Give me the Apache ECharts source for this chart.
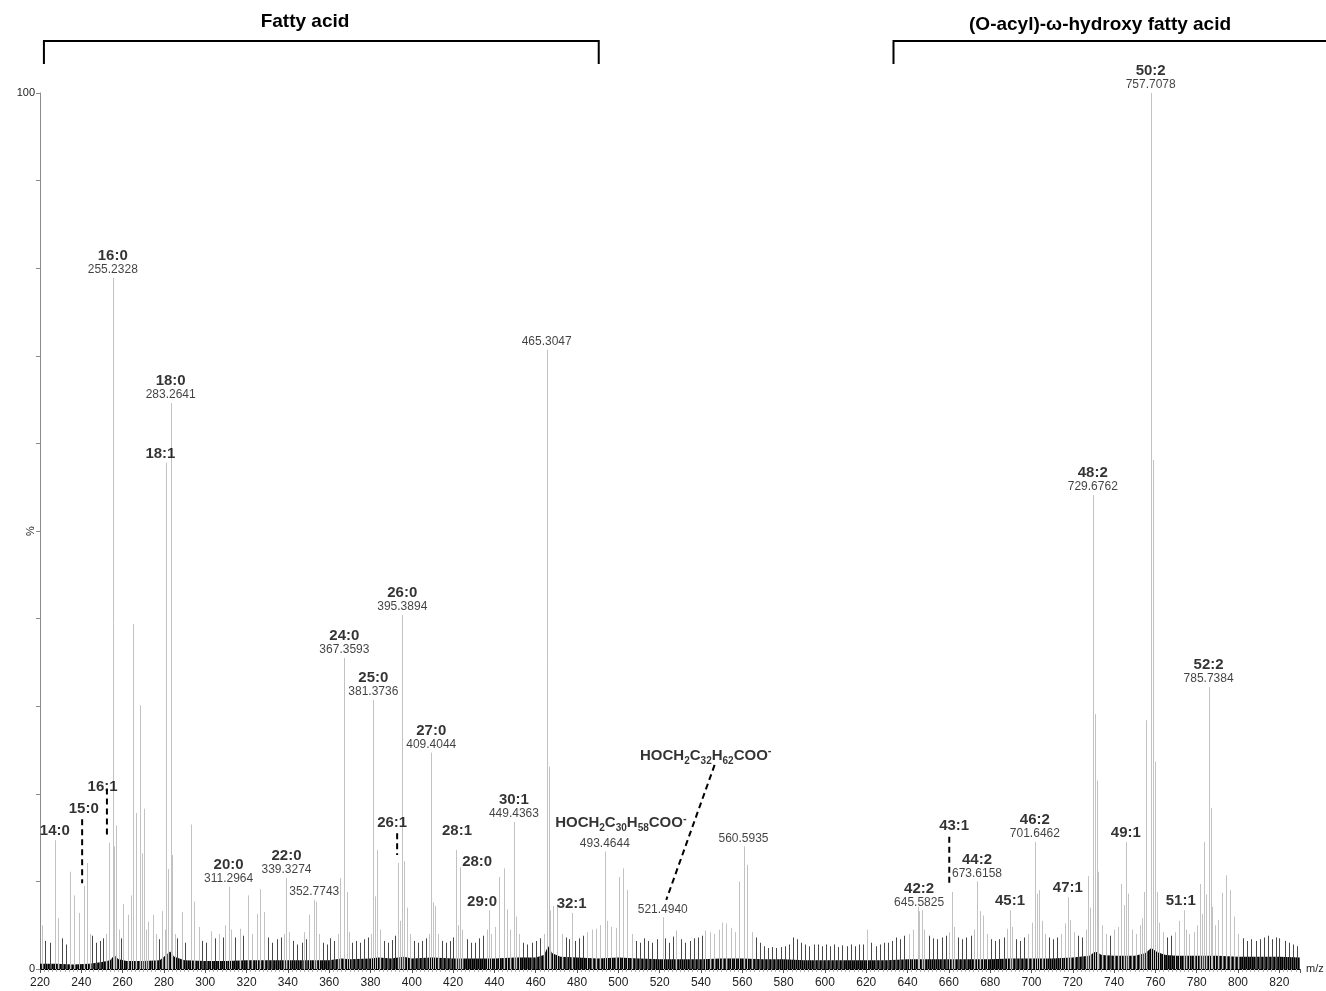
<!DOCTYPE html>
<html>
<head>
<meta charset="utf-8">
<title>Negative-ion mass spectrum: fatty acids and (O-acyl)-ω-hydroxy fatty acids</title>
<script src="https://cdn.jsdelivr.net/npm/echarts@6/dist/echarts.min.js"></script>
<style>
  html, body { margin: 0; padding: 0; background: #fff; }
  #chart { width: 1326px; height: 991px; }
</style>
</head>
<body>
<div id="chart"></div>
<script>
// ---------------- data ----------------
// axis ranges (m/z and relative intensity, %)
const mzMin = 220, mzMax = 830, mzStep = 20;
const relMin = 0, relMax = 100, relStep = 10;
const relLabelsShown = [0, 100];

// assigned peaks: name, m/z, relative intensity, whether the exact m/z is printed
const tagName = ['14:0', '15:0', '16:1', '16:0', '18:1', '18:0', '20:0', '22:0', '', '24:0',
  '25:0', '26:1', '26:0', '27:0', '28:1', '28:0', '29:0', '30:1', '', '32:1',
  'HOCH2C30H58COO-', 'HOCH2C32H62COO-', '', '42:2', '43:1', '44:2', '45:1', '46:2', '47:1', '48:2',
  '49:1', '50:2', '51:1', '52:2'];
const tagMz = [227.2, 241.2, 253.2, 255.2328, 281.2, 283.2641, 311.2964, 339.3274, 352.7743, 367.3593,
  381.3736, 393.4, 395.3894, 409.4044, 421.4, 423.4, 437.4, 449.4363, 465.3047, 477.4,
  493.4644, 521.4940, 560.5935, 645.5825, 661.6, 673.6158, 689.6, 701.6462, 717.6, 729.6762,
  745.7, 757.7078, 773.7, 785.7384];
const tagIntensity = [14.7, 9.5, 14.4, 78.9, 57.8, 64.6, 9.4, 10.4, 7.9, 35.5,
  30.7, 12.1, 40.4, 24.7, 13.6, 11.6, 6.7, 16.8, 70.7, 6.4,
  13.4, 5.9, 14.0, 6.6, 8.8, 10.0, 6.7, 14.5, 8.2, 54.1,
  14.5, 100, 6.7, 32.2];
const tagShowMz = [false, false, false, true, false, true, true, true, true, true,
  true, false, true, true, false, false, false, true, true, false,
  true, true, true, true, false, true, false, true, false, true,
  false, true, false, true];

// remaining peaks: [m/z, relative intensity %]
const otherPeaks = [
  [220.8, 5.0], [222.5, 3.2], [224.6, 3.0], [228.5, 5.8], [230.5, 3.5], [232.6, 2.8], [234.5, 11.1],
  [236.5, 8.4], [238.9, 6.4], [242.7, 12.1], [244.0, 4.0], [245.2, 3.8], [247.0, 3.0], [249.0, 3.2],
  [250.6, 3.5], [252.0, 4.0], [256.0, 14.0], [257.0, 16.4], [258.3, 4.5], [259.4, 3.5], [260.3, 7.4],
  [262.6, 6.2], [264.0, 8.4], [265.0, 39.4], [266.6, 17.8], [268.5, 30.1], [269.3, 13.2], [270.5, 18.3],
  [271.4, 4.5], [272.4, 5.4], [274.5, 6.2], [276.2, 4.0], [277.4, 3.4], [279.2, 6.6], [280.3, 4.5],
  [282.1, 11.4], [284.0, 13.0], [285.2, 4.0], [286.5, 3.5], [288.7, 6.5], [290.3, 3.0], [293.1, 16.5],
  [294.5, 7.7], [296.9, 4.8], [298.4, 3.2],
  [300.5, 3.0], [302.6, 4.3], [304.5, 3.5], [306.8, 4.0], [308.5, 3.6], [309.5, 5.0], [312.3, 4.5],
  [314.5, 3.6], [316.6, 4.6], [318.5, 3.8], [320.8, 8.4], [322.4, 4.0], [324.9, 6.3], [326.5, 9.1],
  [328.5, 6.5], [330.5, 3.6], [332.5, 3.0], [334.6, 3.4], [336.6, 3.6], [338.2, 4.0], [340.6, 4.2],
  [342.5, 3.2], [344.5, 2.8], [346.6, 3.0], [347.6, 4.2], [348.6, 3.4], [350.3, 6.2], [353.6, 7.7],
  [355.0, 4.0], [357.0, 3.0], [359.0, 2.8],
  [360.5, 3.5], [362.5, 3.2], [364.2, 4.0], [365.2, 10.4], [368.4, 8.8], [369.5, 4.2], [371.0, 3.0],
  [373.0, 3.2], [375.0, 3.0], [377.0, 3.4], [379.0, 3.6], [380.3, 4.0], [382.2, 8.3], [383.2, 13.6],
  [384.5, 4.5], [386.5, 3.2], [388.5, 3.0], [390.5, 3.3], [392.0, 3.8], [394.2, 5.5], [396.0, 12.3],
  [397.7, 7.0], [399.0, 4.0], [401.0, 3.2], [403.0, 3.0], [405.0, 3.2], [407.0, 3.5], [408.3, 4.0],
  [410.2, 7.6], [411.1, 7.2], [412.5, 4.0], [414.5, 3.2], [416.5, 3.0], [418.5, 3.2], [420.0, 3.6],
  [422.3, 5.0], [424.5, 4.5], [426.5, 3.4], [428.5, 3.0], [430.5, 3.0], [432.5, 3.5], [434.5, 3.8],
  [436.2, 4.5], [438.5, 4.0], [440.5, 4.8], [442.4, 10.5], [444.4, 11.5], [446.3, 6.8], [447.5, 4.5],
  [450.5, 6.0], [452.0, 4.0], [454.0, 3.0], [456.0, 2.8], [458.0, 3.0], [460.0, 3.2], [462.0, 3.5],
  [464.0, 4.0], [466.2, 23.1], [467.0, 6.7], [468.5, 7.2], [470.4, 7.4], [472.5, 4.0], [474.5, 3.6],
  [476.0, 3.4], [479.0, 3.2],
  [481.0, 3.5], [483.0, 3.8], [485.0, 4.2], [487.0, 4.5], [489.0, 4.6], [491.0, 5.0], [494.5, 5.5],
  [496.5, 4.8], [498.7, 4.7], [500.3, 10.5], [502.3, 11.5], [504.4, 9.0], [506.5, 4.0], [508.5, 3.2],
  [510.5, 3.0], [512.5, 3.5], [514.5, 3.2], [516.5, 3.0], [518.5, 3.4], [522.6, 3.5], [524.5, 3.0],
  [526.5, 3.7], [528.1, 4.4], [530.5, 3.4], [532.5, 3.0], [534.5, 3.2], [536.5, 3.5], [538.5, 3.6],
  [540.5, 3.8], [542.1, 4.4], [544.5, 4.2], [546.5, 4.0], [548.5, 4.5], [550.3, 5.3], [552.2, 5.2],
  [554.3, 4.7], [556.5, 4.2], [558.4, 10.0], [562.4, 11.9], [564.5, 4.2], [566.7, 3.6], [568.5, 3.0],
  [570.5, 2.6], [572.5, 2.4], [574.5, 2.5], [576.5, 2.4], [578.5, 2.5],
  [580.5, 2.6], [582.5, 2.8], [584.5, 3.6], [586.5, 3.4], [588.5, 3.0], [590.5, 2.8], [592.5, 2.6],
  [594.5, 2.8], [596.5, 2.8], [598.5, 2.6], [600.5, 2.8], [602.5, 2.6], [604.5, 2.8], [606.5, 2.5],
  [608.5, 2.7], [610.5, 2.6], [612.5, 2.8], [614.5, 2.6], [616.5, 2.8], [618.5, 2.8], [620.5, 4.5],
  [622.5, 3.0], [624.5, 2.6], [626.5, 2.8], [628.5, 3.0], [630.5, 3.0], [632.5, 3.2], [634.5, 3.6],
  [636.5, 3.4], [638.5, 3.8], [640.5, 4.0], [642.5, 4.5], [645.0, 7.1], [647.1, 6.7], [648.2, 4.5],
  [650.5, 3.8], [652.5, 3.5], [654.5, 3.4], [656.5, 3.6], [658.5, 3.8], [660.0, 4.2], [662.4, 4.8],
  [664.5, 3.6], [666.5, 3.4], [668.5, 3.6], [670.5, 3.8], [672.2, 4.5], [675.0, 6.6], [676.4, 6.1],
  [678.5, 4.0], [680.5, 3.4], [682.5, 3.2], [684.5, 3.4], [686.5, 3.6], [688.2, 4.6], [690.7, 4.8],
  [692.5, 3.4], [694.5, 3.2], [696.5, 3.6], [698.5, 4.0], [700.1, 5.3], [702.6, 8.6], [703.6, 9.0],
  [705.0, 5.5], [706.5, 4.0], [708.5, 3.6], [710.5, 3.4], [712.5, 3.6], [714.5, 4.0], [716.2, 5.2],
  [718.7, 5.6], [720.5, 4.2], [722.5, 3.8], [724.5, 3.6], [726.2, 4.5], [727.6, 10.6], [728.5, 7.0],
  [730.6, 29.1], [731.6, 21.5], [732.4, 11.1], [734.0, 5.0], [736.0, 4.0], [738.0, 3.8], [740.0, 4.5],
  [742.0, 4.8], [743.4, 9.7], [744.6, 7.3], [746.8, 8.6], [748.5, 4.5], [750.5, 4.0], [752.3, 5.0],
  [753.6, 5.8], [754.4, 8.8], [755.6, 28.4], [758.6, 58.1], [759.6, 23.7], [760.6, 8.8], [761.6, 5.3],
  [763.5, 4.2], [765.5, 3.6], [767.5, 3.8], [769.5, 4.2], [771.2, 5.5], [774.6, 4.5], [776.5, 4.0],
  [778.5, 4.2], [780.2, 5.0], [781.4, 9.7], [782.4, 6.3], [783.5, 14.5], [784.5, 8.5], [786.7, 18.4],
  [787.6, 7.1], [789.0, 5.0], [790.1, 5.6], [792.2, 8.7], [794.2, 10.7], [796.1, 9.0], [798.2, 6.0],
  [800.2, 4.0], [802.2, 3.5], [804.5, 3.2], [806.5, 3.4], [808.5, 3.2], [810.5, 3.4], [812.5, 3.6],
  [814.5, 3.8], [816.5, 3.4], [818.5, 3.6], [820.0, 3.5], [822.5, 3.2], [824.5, 3.0], [826.5, 2.8],
  [828.5, 2.6]
];

// chemical-noise baseline envelope
const baselineMz = [220, 228, 236, 244, 250, 254, 256, 258, 262, 270, 278, 281, 283, 285, 290, 300, 310, 320, 330, 340,
  350, 360, 366, 370, 380, 384, 390, 396, 400, 410, 420, 430, 440, 450, 460, 464, 466, 468, 472, 480,
  490, 500, 510, 520, 530, 540, 550, 560, 570, 580, 590, 600, 610, 620, 630, 640, 650, 660, 670, 680,
  690, 700, 710, 720, 728, 731, 734, 740, 750, 755, 758, 761, 765, 770, 780, 790, 800, 810, 820, 830];
const baselineLevel = [0.6, 0.6, 0.5, 0.6, 0.8, 1.0, 1.6, 1.1, 0.9, 0.9, 1.0, 1.6, 2.0, 1.4, 1.0, 0.9, 0.9, 1.0, 1.0, 1.0,
  1.0, 1.0, 1.2, 1.1, 1.2, 1.3, 1.2, 1.4, 1.2, 1.3, 1.2, 1.2, 1.2, 1.3, 1.3, 1.6, 2.6, 1.8, 1.4, 1.3,
  1.2, 1.3, 1.2, 1.1, 1.1, 1.1, 1.2, 1.2, 1.1, 1.1, 1.0, 1.0, 1.0, 1.0, 1.0, 1.1, 1.1, 1.1, 1.1, 1.1,
  1.2, 1.2, 1.2, 1.3, 1.5, 2.0, 1.6, 1.5, 1.5, 1.8, 2.4, 1.9, 1.6, 1.5, 1.5, 1.5, 1.4, 1.4, 1.4, 1.3];

// compound-class brackets above the spectrum (m/z span)
const classNames = ['Fatty acid', '(O-acyl)-ω-hydroxy fatty acid'];
const classFrom = [221.9, 633.2];
const classTo = [490.5, 860];
const classTitleMz = [348.3, 733.2];

// ---------------- layout / style ----------------
const FONT = '"Liberation Sans", Arial, Helvetica, sans-serif';
const GRID = { left: 40, right: 26, top: 93, bottom: 22 };

// label nudges in px relative to the default spot just above the peak
const labelShift = {
  '15:0': [0, -68], '16:1': [-6, -47], '18:1': [-6, 0], '26:1': [-6, -31],
  '28:1': [1, -10], '28:0': [17, 3], '29:0': [-7, 1], '43:1': [2, -57], '51:1': [-3, 0],
  'HOCH2C30H58COO-': [16, -17], 'HOCH2C32H62COO-': [43, -150]
};
// dashed leaders from labels down to their peaks: [mz1, rel1, mz2, rel2]
const leaderLines = [
  [240.4, 17.1, 240.4, 9.8],
  [252.4, 20.6, 252.4, 15.1],
  [392.9, 15.5, 392.9, 13.0],
  [660.2, 15.1, 660.2, 9.7],
  [546.6, 23.3, 523.2, 7.9]
];

// stripes for the dense noise band
const stripe = document.createElement('canvas');
stripe.width = 4; stripe.height = 1;
(function () {
  const c = stripe.getContext('2d');
  ['#000', '#2a2a2a', '#000', '#555'].forEach((col, i) => { c.fillStyle = col; c.fillRect(i, 0, 1, 1); });
})();

// chemical formula -> rich text with subscripted counts and a superscript charge
function formulaMarkup(s) {
  return s.replace(/(\d+)/g, '{s|$1}').replace(/-$/, '{p|-}').replace(/([A-Z]+)(?=\{|$)/g, '{f|$1}');
}

// ---------------- series data ----------------
const allPeaks = tagMz.map((m, i) => [m, tagIntensity[i]]).concat(otherPeaks);

const richStyles = {
  n: { fontFamily: FONT, fontWeight: 'bold', fontSize: 15, lineHeight: 15, color: '#000' },
  m: { fontFamily: FONT, fontSize: 12, lineHeight: 13, color: '#111' },
  f: { fontFamily: FONT, fontWeight: 'bold', fontSize: 15, lineHeight: 20, color: '#000', verticalAlign: 'middle', align: 'left' },
  s: { fontFamily: FONT, fontWeight: 'bold', fontSize: 10, lineHeight: 11, color: '#000', verticalAlign: 'bottom', align: 'left' },
  p: { fontFamily: FONT, fontWeight: 'bold', fontSize: 11, lineHeight: 12, color: '#000', verticalAlign: 'top', align: 'left' }
};

const labelItems = [];
const labelItemShift = [];
tagMz.forEach((m, i) => {
  const name = tagName[i];
  const mzText = tagShowMz[i] ? m.toFixed(4) : '';
  const h = tagIntensity[i];
  const shift = labelShift[name];
  if (name && shift) {
    const text = /^HO/.test(name) ? formulaMarkup(name) : '{n|' + name + '}';
    labelItems.push({ value: [m, h], label: { formatter: text } });
    labelItemShift.push(shift);
    if (mzText) {
      labelItems.push({ value: [m, h], label: { formatter: '{m|' + mzText + '}' } });
      labelItemShift.push(null);
    }
  } else {
    const parts = [];
    if (name) parts.push('{n|' + name + '}');
    if (mzText) parts.push('{m|' + mzText + '}');
    labelItems.push({ value: [m, h], label: { formatter: parts.join('\n') } });
    labelItemShift.push(null);
  }
});

// ---------------- chart ----------------
const chart = echarts.init(document.getElementById('chart'), null, { renderer: 'canvas' });

function stemItem(params, api) {
  const x = api.value(0), y = api.value(1);
  const p0 = api.coord([x, 0]);
  const p1 = api.coord([x, y]);
  const px = Math.round(p0[0]) + 0.5;
  return {
    type: 'line',
    shape: { x1: px, y1: p0[1], x2: px, y2: p1[1] },
    style: { stroke: y < 4.0 ? '#484848' : '#c2c2c2', lineWidth: 1 }
  };
}

function leaderItem(params, api) {
  const a = api.coord([api.value(0), api.value(1)]);
  const b = api.coord([api.value(2), api.value(3)]);
  return {
    type: 'line',
    shape: { x1: a[0], y1: a[1], x2: b[0], y2: b[1] },
    style: { stroke: '#000', lineWidth: 2, lineDash: [6, 4] }
  };
}

chart.setOption({
  animation: false,
  backgroundColor: '#fff',
  textStyle: { fontFamily: FONT },
  grid: Object.assign({ containLabel: false, outerBoundsMode: 'none' }, GRID),
  xAxis: {
    type: 'value', min: mzMin, max: mzMax, interval: mzStep,
    name: 'm/z', nameLocation: 'end', nameGap: 6,
    nameTextStyle: { fontFamily: FONT, fontSize: 11, color: '#222', verticalAlign: 'middle' },
    axisLine: { show: true, onZero: false, lineStyle: { color: '#000', width: 1 } },
    axisTick: { show: true, length: 4, lineStyle: { color: '#555' } },
    minorTick: { show: true, splitNumber: 10, length: 3, lineStyle: { color: '#b0b0b0' } },
    axisLabel: { color: '#222', fontSize: 12, fontFamily: FONT, margin: 8, showMaxLabel: false },
    splitLine: { show: false }
  },
  yAxis: {
    type: 'value', min: relMin, max: relMax, interval: relStep,
    name: '%', nameLocation: 'middle', nameGap: 4, nameRotate: 90, nameMoveOverlap: false,
    nameTextStyle: { fontFamily: FONT, fontSize: 11, color: '#222' },
    axisLine: { show: true, lineStyle: { color: '#8c8c8c', width: 1 } },
    axisTick: { show: true, length: 4, lineStyle: { color: '#8c8c8c' } },
    axisLabel: {
      color: '#222', fontSize: 11, fontFamily: FONT, margin: 5,
      formatter: v => (relLabelsShown.indexOf(v) >= 0 ? String(v) : '')
    },
    splitLine: { show: false }
  },
  series: [
    {
      name: 'baseline', type: 'line', silent: true, z: 1,
      data: baselineMz.map((m, i) => [m, baselineLevel[i]]),
      symbol: 'none', lineStyle: { width: 0 },
      areaStyle: { color: { image: stripe, repeat: 'repeat' }, opacity: 1 }
    },
    {
      name: 'peaks', type: 'custom', silent: true, z: 2, clip: true,
      renderItem: stemItem, encode: { x: 0, y: 1 },
      data: allPeaks
    },
    {
      name: 'leaders', type: 'custom', silent: true, z: 3, clip: false,
      renderItem: leaderItem, encode: { x: [0, 2], y: [1, 3] },
      data: leaderLines
    },
    {
      name: 'labels', type: 'scatter', silent: true, z: 4, clip: false,
      symbol: 'circle', symbolSize: 1, itemStyle: { color: 'rgba(0,0,0,0)' },
      labelLayout: function (p) {
        const s = labelItemShift[p.dataIndex];
        return s ? { dx: s[0], dy: s[1], hideOverlap: false } : { hideOverlap: false };
      },
      label: { show: true, position: 'top', distance: 1, align: 'center', rich: richStyles },
      data: labelItems
    }
  ]
});

// class brackets and their titles, placed along the m/z scale
const graphics = [];
classNames.forEach((name, i) => {
  const x1 = chart.convertToPixel({ xAxisIndex: 0 }, classFrom[i]);
  const x2 = chart.convertToPixel({ xAxisIndex: 0 }, classTo[i]);
  const xt = chart.convertToPixel({ xAxisIndex: 0 }, classTitleMz[i]);
  graphics.push({
    type: 'polyline', silent: true,
    shape: { points: [[x1, 64], [x1, 41], [x2, 41], [x2, 64]] },
    style: { stroke: '#000', lineWidth: 2, fill: null }
  });
  graphics.push({
    type: 'text', silent: true, x: xt, y: i === 0 ? 22 : 25,
    style: { text: name, fontFamily: FONT, fontWeight: 'bold', fontSize: 19, fill: '#000', align: 'center', verticalAlign: 'middle' }
  });
});
chart.setOption({ graphic: graphics });
</script>
</body>
</html>
